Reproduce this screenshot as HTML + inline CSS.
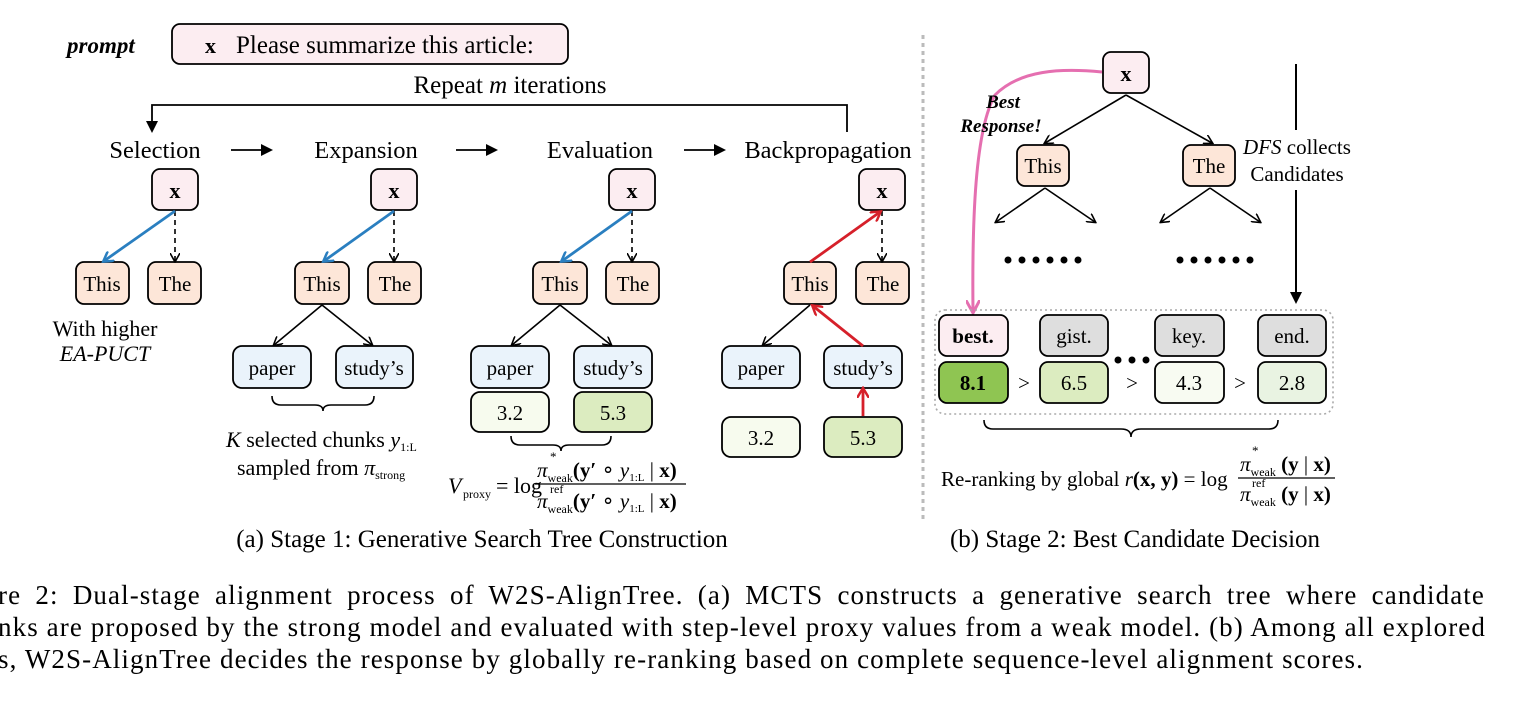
<!DOCTYPE html>
<html><head><meta charset="utf-8"><style>
body{margin:0;background:#fff;}
svg{display:block;font-family:"Liberation Serif",serif;}
.cap{position:absolute;font-family:"Liberation Serif",serif;font-size:27px;letter-spacing:1.1px;text-align:justify;text-align-last:justify;white-space:nowrap;}
</style></head><body>
<div style="position:relative;width:1513px;height:711px;overflow:hidden">
<svg width="1513" height="711" viewBox="0 0 1513 711">
<defs>
<marker id="ab" markerWidth="10" markerHeight="10" refX="8" refY="5" orient="auto" markerUnits="userSpaceOnUse"><path d="M0,0 L9,5 L0,10" fill="none" stroke="#000" stroke-width="1.6"/></marker>
<marker id="af" markerWidth="12" markerHeight="12" refX="10" refY="6" orient="auto" markerUnits="userSpaceOnUse"><path d="M0,0 L12,6 L0,12 z" fill="#000"/></marker>
<marker id="abl" markerWidth="12" markerHeight="12" refX="9" refY="6" orient="auto" markerUnits="userSpaceOnUse"><path d="M0,0 L10,6 L0,12" fill="none" stroke="#2a7fc0" stroke-width="2.5"/></marker>
<marker id="ar" markerWidth="12" markerHeight="12" refX="9" refY="6" orient="auto" markerUnits="userSpaceOnUse"><path d="M0,0 L10,6 L0,12" fill="none" stroke="#d6202a" stroke-width="2.5"/></marker>
<marker id="ap" markerWidth="16" markerHeight="14" refX="12" refY="7" orient="auto" markerUnits="userSpaceOnUse"><path d="M0,0 L13,7 L0,14" fill="none" stroke="#e56fb0" stroke-width="3"/></marker>
</defs>
<rect x="172" y="24" width="396" height="40" rx="8" fill="#fcedf1" stroke="#000" stroke-width="1.8"/>
<text x="67" y="53" font-size="23" font-weight="bold" font-style="italic">prompt</text>
<text x="205" y="53" font-size="22" font-weight="bold">x</text>
<text x="236" y="53" font-size="25">Please summarize this article:</text>
<text x="510" y="93" font-size="25" text-anchor="middle">Repeat <tspan font-style="italic">m</tspan> iterations</text>
<path d="M847,132 V105 H152 V131" fill="none" stroke="#000" stroke-width="1.8" marker-end="url(#af)"/>
<g font-size="24.5" text-anchor="middle">
<text x="155" y="158">Selection</text><text x="366" y="158">Expansion</text><text x="600" y="158">Evaluation</text><text x="828" y="158">Backpropagation</text>
</g>
<g stroke="#000" stroke-width="1.8" marker-end="url(#af)">
<line x1="231" y1="150" x2="271" y2="150"/><line x1="456" y1="150" x2="496" y2="150"/><line x1="684" y1="150" x2="724" y2="150"/>
</g>
<g stroke="#000" stroke-width="1.8">
<rect x="152" y="169" width="46" height="41" rx="8" fill="#fcedf1"/>
<rect x="371" y="169" width="46" height="41" rx="8" fill="#fcedf1"/>
<rect x="609" y="169" width="46" height="41" rx="8" fill="#fcedf1"/>
<rect x="859" y="169" width="46" height="41" rx="8" fill="#fcedf1"/>
<rect x="1103" y="52" width="46" height="41" rx="8" fill="#fcedf1"/>
<g fill="#fde6d8">
<rect x="76" y="262" width="53" height="42" rx="8"/><rect x="148" y="262" width="53" height="42" rx="8"/>
<rect x="295" y="262" width="54" height="42" rx="8"/><rect x="368" y="262" width="53" height="42" rx="8"/>
<rect x="533" y="262" width="54" height="42" rx="8"/><rect x="606" y="262" width="53" height="42" rx="8"/>
<rect x="784" y="262" width="52" height="42" rx="8"/><rect x="856" y="262" width="53" height="42" rx="8"/>
<rect x="1017" y="145" width="52" height="41" rx="8"/><rect x="1183" y="145" width="52" height="41" rx="8"/>
</g>
<g fill="#eaf3fb">
<rect x="233" y="346" width="78" height="42" rx="9"/><rect x="336" y="346" width="77" height="42" rx="9"/>
<rect x="471" y="346" width="78" height="42" rx="9"/><rect x="574" y="346" width="78" height="42" rx="9"/>
<rect x="722" y="346" width="78" height="42" rx="9"/><rect x="824" y="346" width="78" height="42" rx="9"/>
</g>
<rect x="471" y="392" width="78" height="40" rx="9" fill="#f7fbee"/>
<rect x="574" y="392" width="78" height="40" rx="9" fill="#dcecc0"/>
<rect x="722" y="417" width="78" height="40" rx="9" fill="#f7fbee"/>
<rect x="824" y="417" width="78" height="40" rx="9" fill="#dcecc0"/>
</g>
<g font-size="22" text-anchor="middle" font-weight="bold">
<text x="175" y="198">x</text><text x="394" y="198">x</text><text x="632" y="198">x</text><text x="882" y="198">x</text><text x="1126" y="81">x</text>
</g>
<g font-size="21" text-anchor="middle">
<text x="102" y="291">This</text><text x="175" y="291">The</text>
<text x="322" y="291">This</text><text x="395" y="291">The</text>
<text x="560" y="291">This</text><text x="633" y="291">The</text>
<text x="810" y="291">This</text><text x="883" y="291">The</text>
<text x="1043" y="173">This</text><text x="1209" y="173">The</text>
<text x="272" y="375">paper</text><text x="374" y="375">study’s</text>
<text x="510" y="375">paper</text><text x="613" y="375">study’s</text>
<text x="761" y="375">paper</text><text x="863" y="375">study’s</text>
<text x="510" y="420">3.2</text><text x="613" y="420">5.3</text>
<text x="761" y="445">3.2</text><text x="863" y="445">5.3</text>
</g>
<g stroke="#000" stroke-width="1.6" stroke-dasharray="5,4" marker-end="url(#ab)">
<line x1="175" y1="211" x2="175" y2="261"/><line x1="394" y1="211" x2="394" y2="261"/>
<line x1="632" y1="211" x2="632" y2="261"/><line x1="882" y1="211" x2="882" y2="261"/>
</g>
<g stroke="#2a7fc0" stroke-width="2.8" marker-end="url(#abl)">
<line x1="175" y1="211" x2="104" y2="261"/><line x1="394" y1="211" x2="324" y2="261"/><line x1="632" y1="211" x2="562" y2="261"/>
</g>
<g stroke="#d6202a" stroke-width="2.8" marker-end="url(#ar)">
<line x1="810" y1="262" x2="880" y2="212"/><line x1="863" y1="346" x2="813" y2="306"/><line x1="863" y1="416" x2="863" y2="389"/>
</g>
<g stroke="#000" stroke-width="1.6" marker-end="url(#ab)">
<line x1="322" y1="305" x2="274" y2="345"/><line x1="322" y1="305" x2="372" y2="345"/>
<line x1="560" y1="305" x2="512" y2="345"/><line x1="560" y1="305" x2="611" y2="345"/>
<line x1="810" y1="305" x2="763" y2="345"/>
<line x1="1126" y1="95" x2="1045" y2="143"/><line x1="1126" y1="95" x2="1212" y2="143"/>
<line x1="1045" y1="188" x2="996" y2="222"/><line x1="1045" y1="188" x2="1095" y2="222"/>
<line x1="1210" y1="188" x2="1161" y2="222"/><line x1="1210" y1="188" x2="1260" y2="222"/>
</g>
<g fill="none" stroke="#000" stroke-width="1.6">
<path d="M272,396 q0,9 9,9 h34 q8,0 8,6 q0,-6 8,-6 h34 q9,0 9,-9"/>
<path d="M511,436 q0,9 9,9 h33 q8,0 8,6 q0,-6 8,-6 h33 q9,0 9,-9"/>
<path d="M984,420 q0,9 9,9 h128 q10,0 10,8 q0,-8 10,-8 h128 q9,0 9,-9"/>
</g>
<text x="105" y="336" font-size="22" text-anchor="middle">With higher</text>
<text x="105" y="361" font-size="22" text-anchor="middle" font-style="italic">EA-PUCT</text>
<text x="226" y="447" font-size="22"><tspan font-style="italic">K</tspan> selected chunks <tspan font-style="italic">y</tspan><tspan font-size="12" dy="4">1:L</tspan></text>
<text x="237" y="475" font-size="22">sampled from <tspan font-style="italic">π</tspan><tspan font-size="12" dy="4">strong</tspan></text>
<text x="448" y="493" font-size="22" font-style="italic">V</text>
<text x="463" y="498" font-size="12">proxy</text>
<text x="496" y="493" font-size="22">= log</text>
<line x1="535" y1="484" x2="686" y2="484" stroke="#000" stroke-width="1.3"/>
<text x="537" y="477" font-size="21"><tspan font-style="italic">π</tspan><tspan font-size="12" dy="5">weak</tspan><tspan dy="-5" font-weight="bold">(y′</tspan> ∘ <tspan font-style="italic">y</tspan><tspan font-size="11" dy="4">1:L</tspan><tspan dy="-4"> | </tspan><tspan font-weight="bold">x)</tspan></text>
<text x="550" y="461" font-size="13">*</text>
<text x="537" y="508" font-size="21"><tspan font-style="italic">π</tspan><tspan font-size="12" dy="5">weak</tspan><tspan dy="-5" font-weight="bold">(y′</tspan> ∘ <tspan font-style="italic">y</tspan><tspan font-size="11" dy="4">1:L</tspan><tspan dy="-4"> | </tspan><tspan font-weight="bold">x)</tspan></text>
<text x="550" y="493" font-size="12">ref</text>
<text x="482" y="547" font-size="25" text-anchor="middle">(a) Stage 1: Generative Search Tree Construction</text>
<text x="1135" y="547" font-size="25" text-anchor="middle">(b) Stage 2: Best Candidate Decision</text>
<line x1="923" y1="35" x2="923" y2="522" stroke="#bbb" stroke-width="3" stroke-dasharray="4,4"/>
<path d="M1102,72 C1060,68 1020,70 995,95 C975,130 972,220 973,312" fill="none" stroke="#e56fb0" stroke-width="3" marker-end="url(#ap)"/>
<text x="1003" y="108" font-size="19" font-weight="bold" font-style="italic" text-anchor="middle">Best</text>
<text x="1001" y="132" font-size="19" font-weight="bold" font-style="italic" text-anchor="middle">Response!</text>
<line x1="1296" y1="64" x2="1296" y2="130" stroke="#000" stroke-width="2"/>
<line x1="1296" y1="190" x2="1296" y2="302" stroke="#000" stroke-width="2" marker-end="url(#af)"/>
<text x="1297" y="154" font-size="21" text-anchor="middle"><tspan font-style="italic">DFS</tspan> collects</text>
<text x="1297" y="181" font-size="21" text-anchor="middle">Candidates</text>
<g fill="#000">
<circle cx="1008" cy="260" r="3.5"/><circle cx="1022" cy="260" r="3.5"/><circle cx="1036" cy="260" r="3.5"/><circle cx="1050" cy="260" r="3.5"/><circle cx="1064" cy="260" r="3.5"/><circle cx="1078" cy="260" r="3.5"/>
<circle cx="1180" cy="260" r="3.5"/><circle cx="1194" cy="260" r="3.5"/><circle cx="1208" cy="260" r="3.5"/><circle cx="1222" cy="260" r="3.5"/><circle cx="1236" cy="260" r="3.5"/><circle cx="1250" cy="260" r="3.5"/>
<circle cx="1118" cy="360" r="3.5"/><circle cx="1132" cy="360" r="3.5"/><circle cx="1146" cy="360" r="3.5"/>
</g>
<rect x="935" y="310" width="398" height="104" rx="10" fill="none" stroke="#aaa" stroke-width="1.6" stroke-dasharray="2,3"/>
<g stroke="#000" stroke-width="1.8">
<rect x="939" y="315" width="69" height="41" rx="8" fill="#fcedf1"/>
<rect x="1040" y="315" width="68" height="41" rx="8" fill="#dedede"/>
<rect x="1155" y="315" width="69" height="41" rx="8" fill="#dedede"/>
<rect x="1258" y="315" width="68" height="41" rx="8" fill="#dedede"/>
<rect x="939" y="362" width="69" height="41" rx="8" fill="#8fc552"/>
<rect x="1040" y="362" width="68" height="41" rx="8" fill="#dcecc0"/>
<rect x="1155" y="362" width="69" height="41" rx="8" fill="#f8fbf2"/>
<rect x="1258" y="362" width="68" height="41" rx="8" fill="#e9f3e2"/>
</g>
<g font-size="21" text-anchor="middle">
<text x="973" y="343" font-weight="bold">best.</text><text x="1074" y="343">gist.</text><text x="1189" y="343">key.</text><text x="1292" y="343">end.</text>
<text x="973" y="390" font-weight="bold">8.1</text><text x="1074" y="390">6.5</text><text x="1189" y="390">4.3</text><text x="1292" y="390">2.8</text>
<text x="1024" y="390">&gt;</text><text x="1132" y="390">&gt;</text><text x="1240" y="390">&gt;</text>
</g>
<text x="941" y="486" font-size="21">Re-ranking by global <tspan font-style="italic">r</tspan><tspan font-weight="bold">(x, y)</tspan> = log</text>
<line x1="1238" y1="478" x2="1335" y2="478" stroke="#000" stroke-width="1.3"/>
<text x="1240" y="471" font-size="21"><tspan font-style="italic">π</tspan><tspan font-size="12" dy="5">weak</tspan><tspan dy="-5" font-weight="bold"> (y</tspan> | <tspan font-weight="bold">x)</tspan></text>
<text x="1252" y="455" font-size="13">*</text>
<text x="1240" y="501" font-size="21"><tspan font-style="italic">π</tspan><tspan font-size="12" dy="5">weak</tspan><tspan dy="-5" font-weight="bold"> (y</tspan> | <tspan font-weight="bold">x)</tspan></text>
<text x="1252" y="487" font-size="12">ref</text>
</svg>
<div class="cap" style="top:580px;left:-2px;width:1487px">re 2: Dual-stage alignment process of W2S-AlignTree. (a) MCTS constructs a generative search tree where candidate</div>
<div class="cap" style="top:612px;left:-2px;width:1487px">nks are proposed by the strong model and evaluated with step-level proxy values from a weak model. (b) Among all explored</div>
<div class="cap" style="top:644px;left:-2px;text-align-last:left;">s, W2S-AlignTree decides the response by globally re-ranking based on complete sequence-level alignment scores.</div>
</div>
</body></html>
